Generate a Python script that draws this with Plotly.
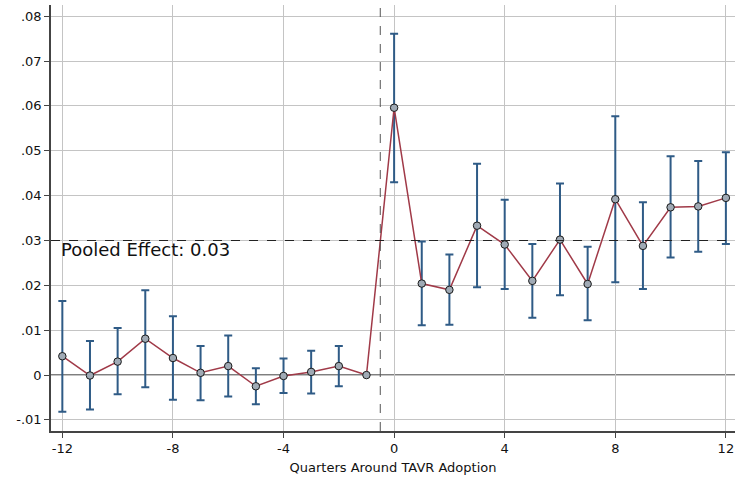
import plotly.graph_objects as go

quarters = list(range(-12, 13))
estimates = [0.0042, -0.0001, 0.0030, 0.0081, 0.0038, 0.0005, 0.0020, -0.0025, -0.0002, 0.0007, 0.0020, 0.0,
             0.0596, 0.0204, 0.0190, 0.0333, 0.0291, 0.0210, 0.0302, 0.0203, 0.0392, 0.0288, 0.0374, 0.0376, 0.0395]
ci_upper = [0.0165, 0.0076, 0.0105, 0.0189, 0.0131, 0.0065, 0.0088, 0.0015, 0.0037, 0.0054, 0.0065, None,
            0.0761, 0.0298, 0.0269, 0.0471, 0.0391, 0.0292, 0.0427, 0.0286, 0.0577, 0.0385, 0.0488, 0.0477, 0.0497]
ci_lower = [-0.0082, -0.0077, -0.0043, -0.0027, -0.0055, -0.0056, -0.0048, -0.0065, -0.0040, -0.0041, -0.0025, None,
            0.0430, 0.0111, 0.0112, 0.0196, 0.0192, 0.0128, 0.0178, 0.0122, 0.0207, 0.0192, 0.0262, 0.0275, 0.0292]
pooled_effect = 0.03
adoption_x = -0.5
y_tickvals = [-0.01, 0, 0.01, 0.02, 0.03, 0.04, 0.05, 0.06, 0.07, 0.08]
y_ticktext = ["-.01", "0", ".01", ".02", ".03", ".04", ".05", ".06", ".07", ".08"]
x_tickvals = [-12, -8, -4, 0, 4, 8, 12]
x_ticktext = ["-12", "-8", "-4", "0", "4", "8", "12"]

err_plus = [(u - e) if u is not None else 0 for u, e in zip(ci_upper, estimates)]
err_minus = [(e - l) if l is not None else 0 for l, e in zip(ci_lower, estimates)]
ci_x = [q for q, u in zip(quarters, ci_upper) if u is not None]
ci_e = [e for e, u in zip(estimates, ci_upper) if u is not None]
ci_p = [p for p, u in zip(err_plus, ci_upper) if u is not None]
ci_m = [m for m, u in zip(err_minus, ci_upper) if u is not None]

fig = go.Figure()
# confidence intervals
fig.add_trace(go.Scatter(
    x=ci_x, y=ci_e, mode="markers",
    marker=dict(size=1, color="rgba(0,0,0,0)"),
    error_y=dict(type="data", symmetric=False, array=ci_p, arrayminus=ci_m,
                 color="#2f5b86", thickness=2, width=4),
    showlegend=False, hoverinfo="skip"))
# connecting line and points
fig.add_trace(go.Scatter(
    x=quarters, y=estimates, mode="lines+markers",
    line=dict(color="#a03a48", width=1.5),
    marker=dict(size=7.5, color="#a0aab5", line=dict(color="#1a1a1a", width=1)),
    showlegend=False))

fig.add_hline(y=0, line=dict(color="#555555", width=1.5), layer="below")
fig.add_hline(y=pooled_effect, line=dict(color="#222222", width=1, dash="dash"))
fig.add_vline(x=adoption_x, line=dict(color="#555555", width=1, dash="dash"))

fig.add_annotation(x=-12.12, y=pooled_effect, xref="x", yref="y",
                   text="Pooled Effect: 0.03", showarrow=False,
                   xanchor="left", yanchor="top", yshift=4,
                   font=dict(size=18, color="#111111"))

fig.update_layout(
    width=735, height=477,
    margin=dict(l=51, r=0, t=5, b=46),
    paper_bgcolor="white", plot_bgcolor="white",
    font=dict(family="DejaVu Sans", size=13, color="#111111"),
    xaxis=dict(range=[-12.41, 12.33], tickvals=x_tickvals, ticktext=x_ticktext, showgrid=True,
               gridcolor="#c4c4c4", gridwidth=1, zeroline=False,
               showline=True, linecolor="#444444", linewidth=1.5,
               ticks="outside", ticklen=5, tickcolor="#444444",
               title=dict(text="Quarters Around TAVR Adoption", font=dict(size=13), standoff=8)),
    yaxis=dict(range=[-0.01247, 0.0825], tickvals=y_tickvals, ticktext=y_ticktext,
               showgrid=True, gridcolor="#c4c4c4", gridwidth=1, zeroline=False,
               showline=True, linecolor="#444444", linewidth=1.5,
               ticks="outside", ticklen=5, tickcolor="#444444"),
)

fig.write_html("out.html")
